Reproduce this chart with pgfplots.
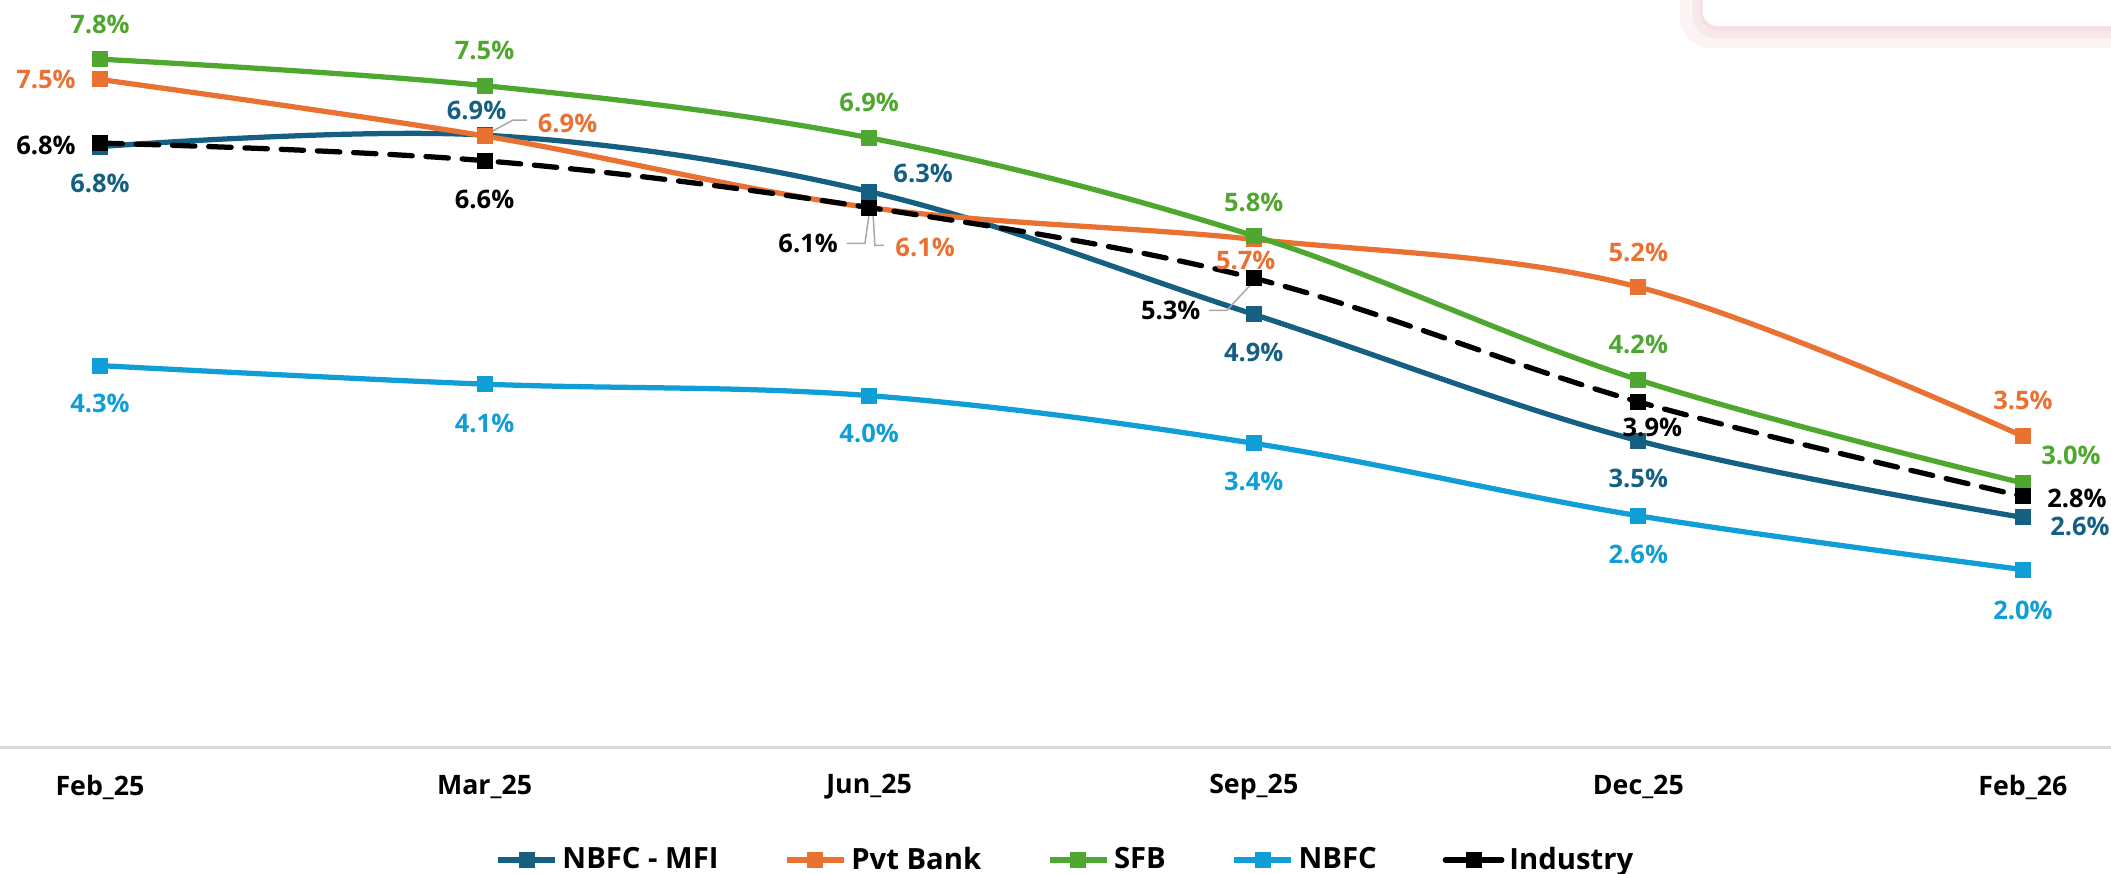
\documentclass[border=0pt]{standalone}
\usepackage{fontspec}
\setmainfont{Open Sans}
\usepackage{pgfplots}
\pgfplotsset{compat=1.18}
\usepackage{pgfplotstable}
\definecolor{cMFI}{HTML}{156082}
\definecolor{cPvt}{HTML}{E97132}
\definecolor{cSFB}{HTML}{4EA72E}
\definecolor{cNBFC}{HTML}{0F9ED5}
\definecolor{leader}{HTML}{A6A6A6}
\definecolor{shpink}{HTML}{F3DDE0}

% x y label dx dy (label offsets in pt)
\pgfplotstableread{
x y lab dx dy
0 6.81 6.8 0 -14.8
1 6.94 6.9 -3.2 10
2 6.30 6.3 21.6 7.2
3 4.91 4.9 0 -15.2
4 3.48 3.5 0 -15.2
5 2.61 2.6 22.8 -3.6
}\mfi
\pgfplotstableread{
x y lab dx dy
0 7.57 7.5 -21.6 0
1 6.93 6.9 33.2 5.2
2 6.12 6.1 22.4 -16
3 5.76 5.7 -3.2 -8.4
4 5.22 5.2 0 14
5 3.53 3.5 0 14.4
}\pvt
\pgfplotstableread{
x y lab dx dy
0 7.80 7.8 0 14
1 7.50 7.5 0 14
2 6.91 6.9 0 14
3 5.80 5.8 0 13.2
4 4.17 4.2 0 14
5 3.00 3.0 19.2 11.2
}\sfb
\pgfplotstableread{
x y lab dx dy
0 4.33 4.3 0 -15.2
1 4.12 4.1 0 -15.6
2 3.99 4.0 0 -15.2
3 3.45 3.4 0 -15.2
4 2.63 2.6 0 -15.6
5 2.02 2.0 0 -16.4
}\nbfc
\pgfplotstableread{
x y lab dx dy
0 6.85 6.8 -21.6 -0.8
1 6.65 6.6 0 -15.6
2 6.12 6.1 -24.4 -14.4
3 5.32 5.3 -33.2 -12.8
4 3.92 3.9 5.6 -10.4
5 2.85 2.8 21.6 -0.8
}\ind

\pgfplotsset{
  lbl/.style={
    point meta=explicit symbolic,
    nodes near coords={\pgfplotspointmeta\%},
    visualization depends on={\thisrow{dx}\as\ldx},
    visualization depends on={\thisrow{dy}\as\ldy},
    nodes near coords style={anchor=center, xshift=\ldx pt, yshift=\ldy pt,
      font=\bfseries\fontsize{10.2}{12}\selectfont, text=#1, inner sep=0pt},
  },
  ser/.style={color=#1, line width=2.1pt, smooth, tension=0.6,
    mark=square*, mark size=3.0pt, mark options={solid, fill=#1, line width=0pt}},
}

\begin{document}
\begin{tikzpicture}
\begin{axis}[
  at={(0,0)}, anchor=south west,
  scale only axis, width=844.4pt, height=299.2pt,
  xmin=-0.26, xmax=5.229, ymin=0, ymax=8.47,
  clip=false,
  axis y line=none, axis x line*=bottom,
  x axis line style={draw=black!15, line width=1.2pt, -},
  xtick={0,1,2,3,4,5},
  xticklabels={Feb\_25,Mar\_25,Jun\_25,Sep\_25,Dec\_25,Feb\_26},
  major tick length=0pt,
  x tick label style={font=\bfseries\fontsize{10.7}{12}\selectfont, anchor=center, yshift=-15.6pt},
  ytick=\empty,
  legend style={at={(0.5,0)}, anchor=center, xshift=4.6pt, yshift=-44.8pt, draw=none,
    font=\bfseries\fontsize{11.7}{13}\selectfont, legend columns=-1,
    /tikz/every even column/.append style={column sep=24.4pt}},
  legend image code/.code={\draw[mark repeat=2,mark phase=2] plot coordinates {(0pt,0pt) (11.3pt,0pt) (22.6pt,0pt)};},
]
\addplot[ser=cMFI, lbl=cMFI] table[x=x,y=y,meta=lab] {\mfi};
\addlegendentry{NBFC - MFI}
\addplot[ser=cPvt, lbl=cPvt] table[x=x,y=y,meta=lab] {\pvt};
\addlegendentry{Pvt Bank}
\addplot[ser=cSFB, lbl=cSFB] table[x=x,y=y,meta=lab] {\sfb};
\addlegendentry{SFB}
\addplot[ser=cNBFC, lbl=cNBFC] table[x=x,y=y,meta=lab] {\nbfc};
\addlegendentry{NBFC}
\addplot[ser=black, lbl=black, dash pattern=on 9pt off 5.5pt, line cap=round] table[x=x,y=y,meta=lab] {\ind};
\addlegendentry{Industry}

% leader lines
\draw[leader, line width=0.6pt] (axis cs:1.01,6.96) -- (axis cs:1.074,7.11) -- (axis cs:1.11,7.11);
\draw[leader, line width=0.6pt] (axis cs:2.0,6.05) -- (axis cs:1.989,5.714) -- (axis cs:1.942,5.714);
\draw[leader, line width=0.6pt] (axis cs:2.01,6.05) -- (axis cs:2.015,5.692) -- (axis cs:2.039,5.692);
\draw[leader, line width=0.6pt] (axis cs:2.995,5.26) -- (axis cs:2.93,4.956) -- (axis cs:2.884,4.956);
\end{axis}
% card in the top right corner
\fill[shpink, opacity=0.35, rounded corners=12pt] (672pt,280pt) rectangle (870pt,320pt);
\fill[shpink, opacity=0.5, rounded corners=9pt] (677pt,284pt) rectangle (870pt,320pt);
\fill[shpink, opacity=0.8, rounded corners=7pt] (680pt,287pt) rectangle (870pt,320pt);
\fill[white, rounded corners=6pt] (681pt,288.8pt) rectangle (870pt,320pt);
\pgfresetboundingbox
\path[use as bounding box] (0,-50.4pt) rectangle (844.4pt,299.2pt);
\end{tikzpicture}
\end{document}
